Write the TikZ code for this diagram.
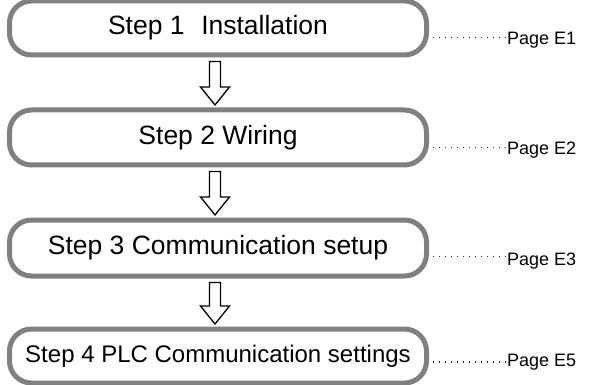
\documentclass[tikz,border=0pt]{standalone}
\usepackage{fontspec}
\setmainfont{Liberation Sans}
\usetikzlibrary{calc}
\definecolor{boxgray}{RGB}{128,128,128}
\begin{document}
\begin{tikzpicture}[x=1pt,y=-1pt,
  stepbox/.style={draw=boxgray, line width=5pt, rounded corners=22pt,
    minimum width=417pt, inner sep=0pt, font=\fontsize{26.5}{30}\selectfont},
  pagelbl/.style={anchor=base west, inner sep=0pt, font=\fontsize{18}{20}\selectfont},
  leader/.style={line width=1.4pt, dash pattern=on 1.4pt off 4.6pt, black!85},
  hollow/.style={draw=black, line width=1.3pt, fill=white, line join=miter}]
\useasboundingbox (0,0) rectangle (592,385);
% boxes
\node[stepbox, minimum height=54pt] (b1) at (218,28) {Step 1\hspace{0.35em} Installation};
\node[stepbox, minimum height=55pt] (b2) at (218,137.5) {Step 2 Wiring};
\node[stepbox, minimum height=56pt] (b3) at (218,248) {Step 3 Communication setup};
\node[stepbox, minimum height=54pt, font=\fontsize{24}{28}\selectfont] (b4) at (218,356) {Step 4 PLC Communication settings};
% page labels
\node[pagelbl] (p1) at (507,45) {Page E1};
\node[pagelbl] (p2) at (507,155) {Page E2};
\node[pagelbl] (p3) at (507,265) {Page E3};
\node[pagelbl] (p4) at (507,366.5) {Page E5};
% leaders
\coordinate (d1) at (433,37.5);
\coordinate (d2) at (433,147.5);
\coordinate (d3) at (433,256.5);
\coordinate (d4) at (433,362);
\draw[leader] (d1) -- ($(p1.west |- d1)+(-1,0)$);
\draw[leader] (d2) -- ($(p2.west |- d2)+(-1,0)$);
\draw[leader] (d3) -- ($(p3.west |- d3)+(-1,0)$);
\draw[leader] (d4) -- ($(p4.west |- d4)+(-1,0)$);
% hollow arrows
\newcommand\hollowarrow[2]{%
  \draw[hollow] let \p1=(#1.south), \p2=(#2.north) in
    (209.5pt,\y1-4pt) -- (209.5pt,\y2+20.5pt) -- (200.5pt,\y2+20.5pt)
    -- (215pt,\y2+2.5pt) -- (229.5pt,\y2+20.5pt) -- (220.5pt,\y2+20.5pt)
    -- (220.5pt,\y1-4pt) -- cycle;}
\hollowarrow{b1}{b2}
\hollowarrow{b2}{b3}
\hollowarrow{b3}{b4}
\end{tikzpicture}
\end{document}
